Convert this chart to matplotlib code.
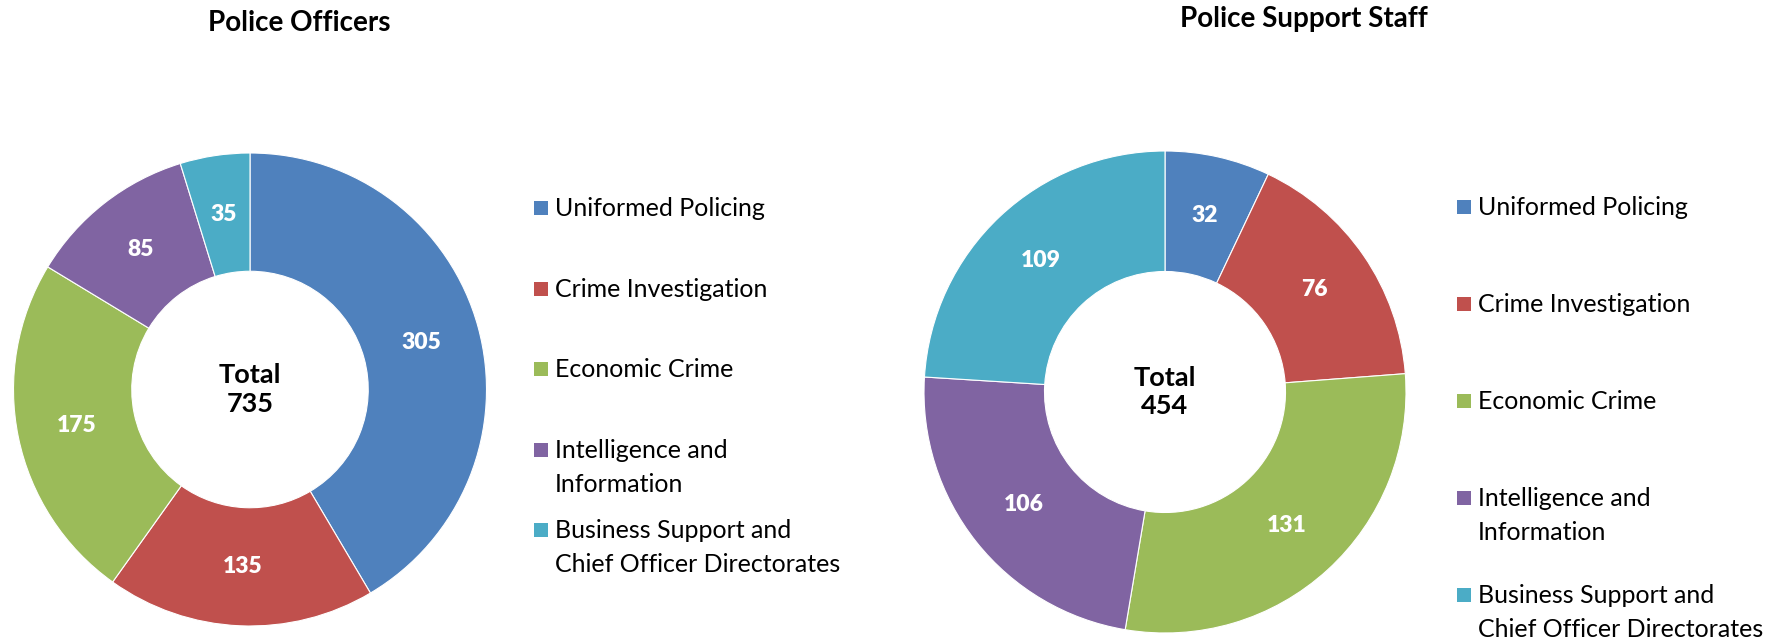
import matplotlib.pyplot as plt
from matplotlib.patches import Rectangle

plt.rcParams['font.family'] = ['Lato', 'DejaVu Sans']

categories = ['Uniformed Policing', 'Crime Investigation', 'Economic Crime',
              'Intelligence and\nInformation',
              'Business Support and\nChief Officer Directorates']
officers = [305, 135, 175, 85, 35]
support = [32, 76, 131, 106, 109]
colors = ['#4F81BD', '#C0504D', '#9BBB59', '#8064A2', '#4BACC6']

W, H = 1771, 638
fig = plt.figure(figsize=(W / 100, H / 100), dpi=100)


def donut(cx, cy, r, values, title, tx, ty, leg_x, leg_y, step):
    # axes placed in pixel coordinates (from top-left)
    ax = fig.add_axes([(cx - r) / W, (H - cy - r) / H, 2 * r / W, 2 * r / H])
    total = sum(values)
    wedges, _, autotexts = ax.pie(
        values, colors=colors, startangle=90, counterclock=False, radius=1,
        wedgeprops=dict(width=0.5, edgecolor='white', linewidth=0.8),
        autopct=lambda p: f'{round(p * total / 100)}', pctdistance=0.75)
    for t in autotexts:
        t.set_color('white')
        t.set_fontsize(16.5)
        t.set_fontweight('heavy')
    ax.text(0, 0, f'Total\n{total}', ha='center', va='center',
            fontsize=19.5, fontweight='bold', linespacing=1.25)
    ax.set_xlim(-1, 1)
    ax.set_ylim(-1, 1)
    ax.set_aspect('equal')
    ax.axis('off')
    fig.text(tx / W, 1 - ty / H, title, ha='center', va='center',
             fontsize=20, fontweight='bold')
    # legend: evenly spaced entries, marker on the first line
    for i, (lab, c) in enumerate(zip(categories, colors)):
        y = leg_y + i * step
        fig.patches.append(Rectangle(((leg_x - 14) / W, 1 - (y + 7) / H),
                                     14 / W, 14 / H, facecolor=c,
                                     transform=fig.transFigure, figure=fig))
        for k, line in enumerate(lab.split('\n')):
            fig.text((leg_x + 7) / W, 1 - (y + 8 + 34 * k) / H, line,
                     ha='left', va='baseline', fontsize=18)


donut(250, 389.5, 236.5, officers, 'Police Officers', 299, 23, 548, 208, 80.6)
donut(1165, 392, 241, support, 'Police Support Staff', 1304, 19, 1471, 207, 97)

fig.savefig('out.png', dpi=100)
